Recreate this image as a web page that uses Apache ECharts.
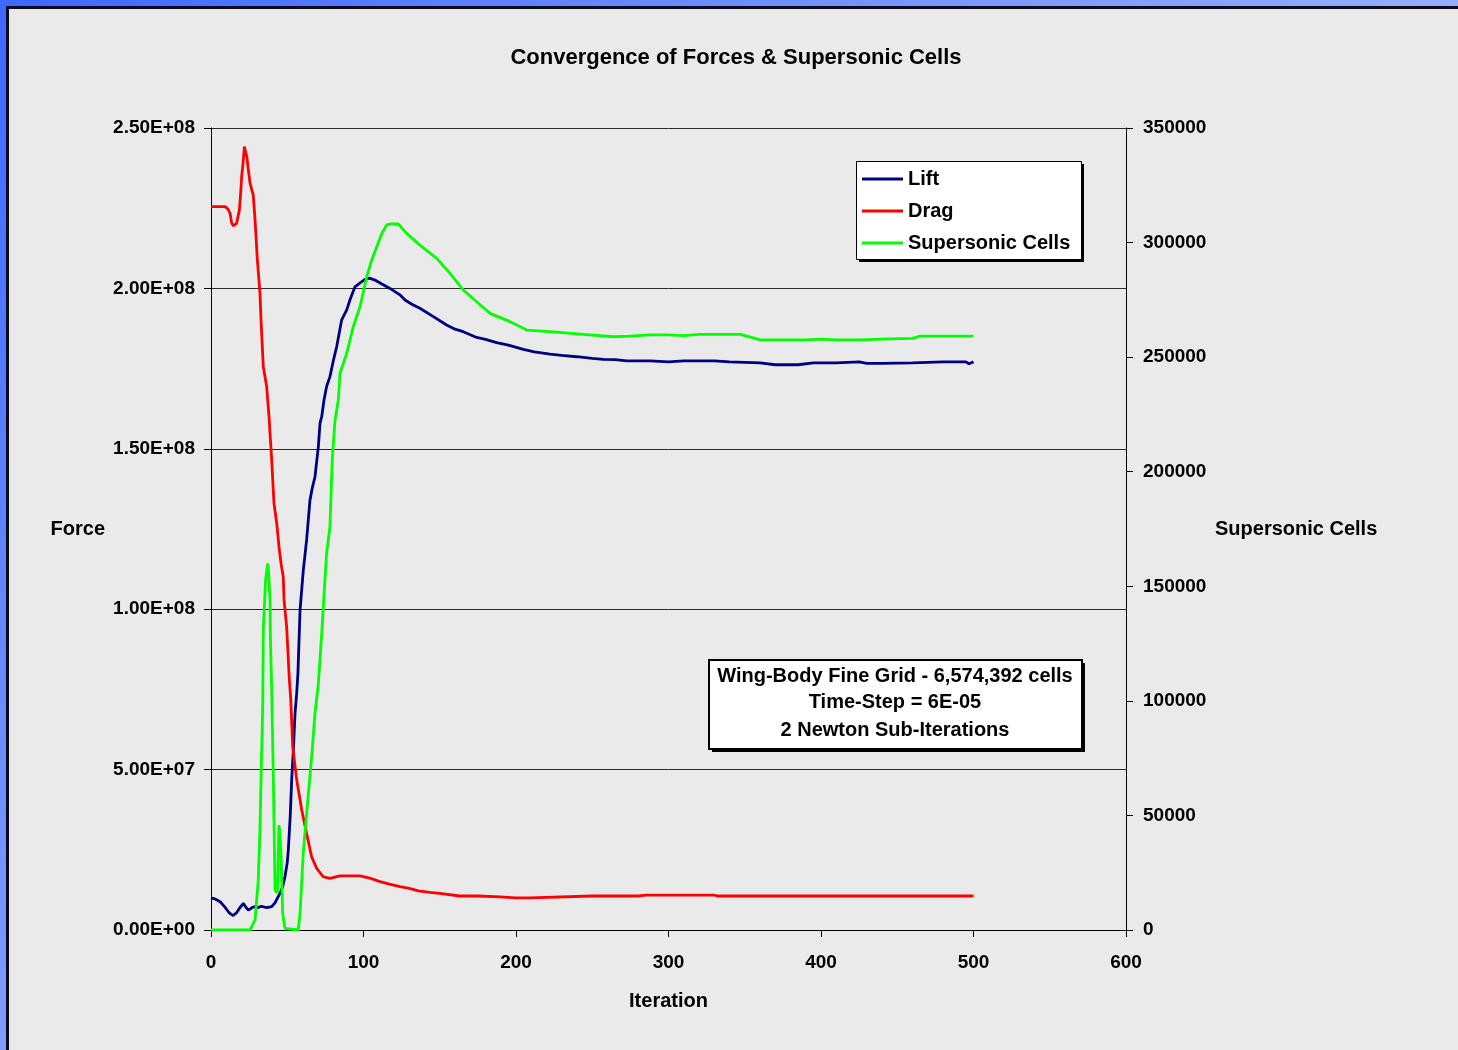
<!DOCTYPE html>
<html>
<head>
<meta charset="utf-8">
<script src="https://cdn.jsdelivr.net/npm/echarts@6/dist/echarts.min.js"></script>
<style>
html,body{margin:0;padding:0;}
body{width:1458px;height:1050px;overflow:hidden;position:relative;
 background:linear-gradient(135deg,#3d68ff 0%,#7694ff 35%,#a6b9ff 70%,#a8bbff 100%);}
#frame{position:absolute;left:6px;top:6px;right:0;bottom:0;border-left:3px solid #0b0b1c;border-top:3px solid #0b0b1c;background:#eaeaea;}
#chart{position:absolute;left:0;top:0;width:1458px;height:1050px;}
</style>
</head>
<body>
<div id="frame"></div>
<div id="chart"></div>
<script>
// ---- data ----
const xTicks = [0, 100, 200, 300, 400, 500, 600];
const forceTicks = [0, 5e7, 1e8, 1.5e8, 2e8, 2.5e8];
const cellTicks = [0, 50000, 100000, 150000, 200000, 250000, 300000, 350000];

// Lift: iteration and force (millions)
const liftIter = [0,3,6,9,12,14.6,17,19,21.2,23,24.5,27,28.9,31,33,36.5,39.8,42,45.2,47,48.5,50,50.7,52,52.9,54,55.1,56.2,57,58.4,60.5,62.7,64.9,66.5,68.2,70.4,71.5,72.6,74.1,75.8,78,80,82.4,85.7,89,91.1,94.4,98,101,104,107.5,112,117.4,123.9,127.2,132,137,145.8,154.5,160,165.4,174.2,180,187.3,195,204.8,212,222.3,230,239.8,250,257.3,265,272.6,287.9,300,310,330,340,360,370,385,395,410,425,430,440,460,480,495,497,500];
const liftForceM = [10.0,9.6,8.8,7.2,5.3,4.5,5.5,7.0,8.3,7.0,6.2,7.0,7.3,7.0,7.4,7.0,7.3,8.5,11.4,13.5,16.6,21,25,36,46.8,56,67.5,73.8,80,99.8,112,121.6,134,138,141.3,150.7,158,160,165.2,169.4,172.5,177,181.8,190.2,193.3,196.4,200.5,201.8,202.8,203.2,202.6,201.4,200,198,196.4,195,193.8,191.2,188.6,187.3,186.5,184.7,184.1,183.1,182.3,181,180.2,179.5,179.1,178.7,178.2,177.9,177.8,177.4,177.4,177.1,177.4,177.4,177.1,176.8,176.2,176.2,176.8,176.8,177.1,176.6,176.6,176.8,177.1,177.1,176.5,177.1];

// Drag: iteration and force (millions)
const dragIter = [0,9.2,11,12.5,13.5,14.6,16.8,18.6,19.5,20.1,21,21.9,22.7,23.5,24.5,25.6,27.7,28.9,30.4,32.1,33,34.3,36.5,37.2,38.2,38.7,39.8,41.3,43.1,44.8,46,47.4,47.9,49.6,51.4,52.3,53.6,56.2,59.5,62.7,66,69.3,73.6,78,84.6,97.7,104,110.8,117,123.9,130,136,143.6,150,163,175,189.5,200,209,210,250,280,285,330,332,400,500];
const dragForceM = [225.5,225.5,224.8,223.4,220.5,219.5,220.3,224.4,230,234.8,239,244.2,244.7,241,236.9,232.8,229.1,221.3,208.9,198.5,188,175.6,169.4,165.2,159,154.8,146.5,133,126.8,118.5,114,110.1,102.9,94.5,77.9,71.7,57.1,46.8,37.4,30.1,22.8,19.2,16.6,16.1,16.9,16.9,16.2,15.1,14.3,13.5,13.0,12.2,11.7,11.4,10.6,10.6,10.3,10.0,10.0,10.6,10.6,10.6,10.9,10.9,10.6,10.6,10.6];

// Supersonic cells: iteration and cell count
const cellIter = [0,25.6,28.9,31,32.1,32.8,33.9,34.3,35.8,37.2,37.8,38.7,38.9,39.8,40.9,42,43.5,44.6,45.2,45.9,47,48.5,49.5,57.2,58.4,60.5,62.7,66,68.2,70.4,72.6,75.8,78,79.5,81.3,83.5,84.6,89,93.3,97.7,102.1,105.4,108.7,112,115.2,117.4,122.8,128.3,137,148,156.7,165.4,174.2,183,196.1,207,222.3,244.1,263.8,274.8,287.9,300,310,320,347,355,360,390,400,410,425,440,460,465,500];
const cellCount = [0,0,4400,21800,43600,65500,97000,130900,152700,160000,155700,144000,129500,105000,65500,17500,16000,45800,42200,33500,7300,700,0,0,7300,33500,50900,75600,94600,107500,129500,164400,176000,205100,222500,231300,243000,251700,263300,272000,285100,292400,298200,304000,307700,308100,308100,304000,298900,293100,286600,279300,274200,269100,265500,261800,261100,259900,258900,259200,259700,259700,259400,259900,259900,258500,257500,257500,257900,257500,257500,257900,258200,259200,259200];

const titleText = 'Convergence of Forces & Supersonic Cells';
const noteLines = ['Wing-Body Fine Grid - 6,574,392 cells', 'Time-Step = 6E-05', '2 Newton Sub-Iterations'];
const seriesNames = ['Lift', 'Drag', 'Supersonic Cells'];

// ---- build ----
const MILLION = 1e6;
const zip = (xs, ys, k) => xs.map((x, i) => [x, ys[i] * (k || 1)]);

function sci(v) {
  if (v === 0) return '0.00E+00';
  const e = Math.floor(Math.log10(Math.abs(v)) + 1e-9);
  const m = v / Math.pow(10, e);
  const es = (e < 0 ? '-' : '+') + String(Math.abs(e)).padStart(2, '0');
  return m.toFixed(2) + 'E' + es;
}

const FONT = '"Liberation Sans", Arial, sans-serif';
const txt = { fontFamily: FONT, fontWeight: 'bold', color: '#000' };

const chart = echarts.init(document.getElementById('chart'), null, { renderer: 'canvas' });

const step = (arr) => arr[1] - arr[0];

const option = {
  backgroundColor: 'transparent',
  animation: false,
  title: {
    text: titleText,
    left: 731, top: 42, textAlign: 'center',
    textStyle: Object.assign({}, txt, { fontSize: 22 })
  },
  legend: {
    orient: 'vertical',
    left: 856, top: 161, z: 20,
    padding: [8, 8, 6, 6],
    itemWidth: 41, itemHeight: 3, itemGap: 12,
    icon: 'rect',
    backgroundColor: 'transparent',
    borderWidth: 0,
    textStyle: Object.assign({}, txt, { fontSize: 20, lineHeight: 20 }),
    data: seriesNames
  },
  grid: { left: 211, right: 332, top: 128, bottom: 120, containLabel: false },
  xAxis: {
    type: 'value',
    min: xTicks[0], max: xTicks[xTicks.length - 1], interval: step(xTicks),
    name: 'Iteration', nameLocation: 'middle', nameGap: 71,
    nameTextStyle: Object.assign({}, txt, { fontSize: 20, verticalAlign: 'middle' }),
    axisLine: { show: true, onZero: false, lineStyle: { color: '#000', width: 1 } },
    axisTick: { show: true, length: 7, lineStyle: { color: '#000' } },
    axisLabel: Object.assign({}, txt, { fontSize: 19, margin: 23 }),
    splitLine: { show: false }
  },
  yAxis: [
    {
      type: 'value', position: 'left',
      min: forceTicks[0], max: forceTicks[forceTicks.length - 1], interval: step(forceTicks),
      name: 'Force', nameLocation: 'middle', nameGap: 106, nameRotate: 0,
      nameTextStyle: Object.assign({}, txt, { fontSize: 20, align: 'right', verticalAlign: 'middle', padding: [0, 0, 12, 0] }),
      axisLine: { show: true, onZero: false, lineStyle: { color: '#000', width: 1 } },
      axisTick: { show: true, length: 7, lineStyle: { color: '#000' } },
      axisLabel: Object.assign({}, txt, { fontSize: 19, margin: 16, formatter: sci }),
      splitLine: { show: true, lineStyle: { color: '#2a2a2a', width: 1 } }
    },
    {
      type: 'value', position: 'right',
      min: cellTicks[0], max: cellTicks[cellTicks.length - 1], interval: step(cellTicks),
      name: 'Supersonic Cells', nameLocation: 'middle', nameGap: 89, nameRotate: 0,
      nameTextStyle: Object.assign({}, txt, { fontSize: 20, align: 'left', verticalAlign: 'middle' }),
      axisLine: { show: true, onZero: false, lineStyle: { color: '#000', width: 1 } },
      axisTick: { show: true, length: 7, lineStyle: { color: '#000' } },
      axisLabel: Object.assign({}, txt, { fontSize: 19, margin: 17, formatter: (v) => String(v) }),
      splitLine: { show: false }
    }
  ],
  series: [
    {
      name: seriesNames[0], type: 'line', yAxisIndex: 0,
      data: zip(liftIter, liftForceM, MILLION),
      showSymbol: false, symbol: 'none', color: '#000080',
      lineStyle: { color: '#000080', width: 2.8 }, z: 3
    },
    {
      name: seriesNames[1], type: 'line', yAxisIndex: 0,
      data: zip(dragIter, dragForceM, MILLION),
      showSymbol: false, symbol: 'none', color: '#ff0000',
      lineStyle: { color: '#ff0000', width: 2.8 }, z: 4
    },
    {
      name: seriesNames[2], type: 'line', yAxisIndex: 1,
      data: zip(cellIter, cellCount),
      showSymbol: false, symbol: 'none', color: '#00ff00',
      lineStyle: { color: '#00ff00', width: 2.8 }, z: 5
    }
  ],
  graphic: [
    {
      type: 'group', left: 856, top: 161, z: 10,
      children: [
        { type: 'rect', shape: { x: 3, y: 3, width: 225, height: 98 }, style: { fill: '#000' } },
        { type: 'rect', shape: { x: 0.5, y: 0.5, width: 225, height: 98 }, style: { fill: '#fff', stroke: '#000', lineWidth: 1 } }
      ]
    },
    {
      type: 'group', left: 708, top: 659, z: 100,
      children: [
        { type: 'rect', shape: { x: 3, y: 3, width: 373, height: 89 }, style: { fill: '#000' } },
        { type: 'rect', shape: { x: 0, y: 0, width: 373, height: 89 }, style: { fill: '#fff', stroke: '#000', lineWidth: 2 } },
        {
          type: 'text', x: 186, y: 16,
          style: { text: noteLines[0], fontFamily: FONT, fontWeight: 'bold', fontSize: 20, fill: '#000', textAlign: 'center', textVerticalAlign: 'middle' }
        },
        {
          type: 'text', x: 186, y: 42,
          style: { text: noteLines[1], fontFamily: FONT, fontWeight: 'bold', fontSize: 20, fill: '#000', textAlign: 'center', textVerticalAlign: 'middle' }
        },
        {
          type: 'text', x: 186, y: 70,
          style: { text: noteLines[2], fontFamily: FONT, fontWeight: 'bold', fontSize: 20, fill: '#000', textAlign: 'center', textVerticalAlign: 'middle' }
        }
      ]
    }
  ]
};
chart.setOption(option);
</script>
</body>
</html>
